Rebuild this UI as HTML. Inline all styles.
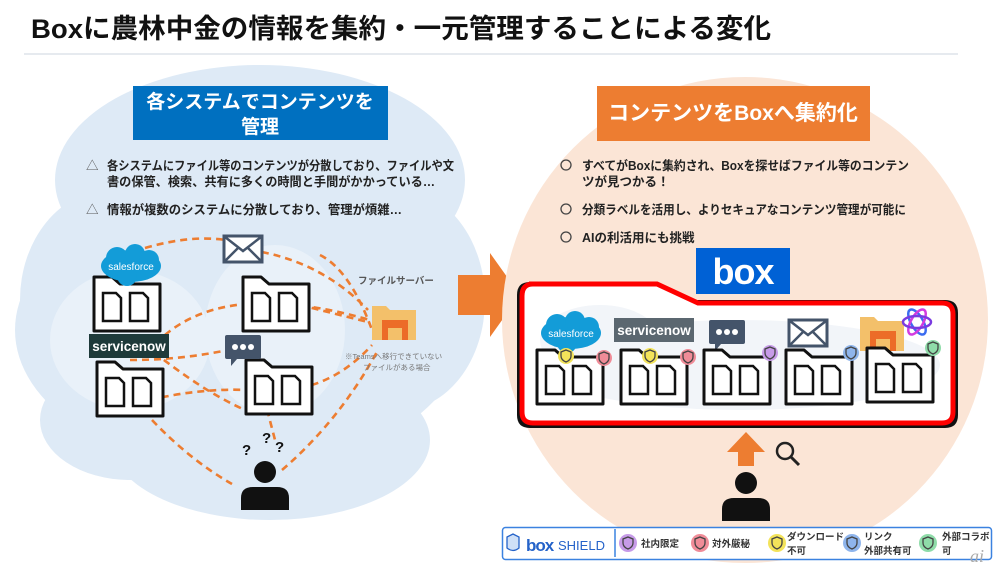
<!DOCTYPE html>
<html><head><meta charset="utf-8">
<style>
html,body{margin:0;padding:0;background:#fff;}
svg{display:block;font-family:"Liberation Sans","Noto Sans CJK JP",sans-serif;}
.b{font-weight:bold;}
</style></head><body>
<svg width="1000" height="569" viewBox="0 0 1000 569" xmlns="http://www.w3.org/2000/svg">
<defs>
<g id="fold">
 <path d="M0,0 H18 L26,7 H66 V54 H0 Z" fill="#fff" stroke="#111" stroke-width="3" stroke-linejoin="round"/>
 <path d="M9,16 H22 L27,21 V44 H9 Z" fill="#fff" stroke="#111" stroke-width="2.5"/>
 <path d="M36,16 H49 L54,21 V44 H36 Z" fill="#fff" stroke="#111" stroke-width="2.5"/>
</g>
<g id="sf">
 <ellipse cx="30" cy="20" rx="30" ry="16" fill="#139cd8"/>
 <circle cx="16" cy="12" r="11" fill="#139cd8"/><circle cx="34" cy="8" r="10" fill="#139cd8"/><circle cx="48" cy="14" r="10" fill="#139cd8"/><circle cx="26" cy="30" r="10" fill="#139cd8"/>
 <text x="30" y="24" font-size="10" fill="#fff" text-anchor="middle">salesforce</text>
</g>
<g id="env">
 <rect x="0" y="0" width="38" height="26" fill="#fff" stroke="#44546a" stroke-width="3"/>
 <path d="M1,1 L19,15 L37,1 M1,25 L14,12 M37,25 L24,12" fill="none" stroke="#44546a" stroke-width="2.5"/>
</g>
<g id="chat">
 <rect x="0" y="0" width="36" height="24" rx="2" fill="#44546a"/><path d="M6,24 L6,31 L12,24Z" fill="#44546a"/>
 <circle cx="10" cy="12" r="3" fill="#fff"/><circle cx="18" cy="12" r="3" fill="#fff"/><circle cx="26" cy="12" r="3" fill="#fff"/>
</g>
<g id="fs">
 <path d="M0,4 H14 L18,8 H44 V38 H0Z" fill="#f3c06a"/>
 <path d="M10,18 H36 V38 H30 V26 H16 V38 H10Z" fill="#ec6c28"/>
</g>
<g id="person">
 <circle cx="24" cy="12" r="11" fill="#111"/>
 <path d="M0,50 V38 Q0,27 12,27 H36 Q48,27 48,38 V50Z" fill="#111"/>
</g>
<g id="sh"><path d="M0,-5 L5,-3 V1 Q5,5 0,7 Q-5,5 -5,1 V-3Z" fill="none" stroke="#444" stroke-width="1.3"/></g>
</defs>

<text x="31" y="38" font-size="27" class="b" fill="#111" textLength="740" lengthAdjust="spacingAndGlyphs">Boxに農林中金の情報を集約・一元管理することによる変化</text>
<line x1="24" y1="54" x2="958" y2="54" stroke="#dde3ea" stroke-width="1.5"/>

<g fill="#deeaf6">
 <ellipse cx="260" cy="180" rx="205" ry="115"/>
 <ellipse cx="240" cy="330" rx="225" ry="140"/>
 <ellipse cx="110" cy="300" rx="90" ry="110"/>
 <ellipse cx="400" cy="300" rx="85" ry="110"/>
 <ellipse cx="270" cy="440" rx="160" ry="80"/>
 <ellipse cx="130" cy="420" rx="90" ry="60"/>
</g>
<g fill="#e9f1f9">
 <ellipse cx="130" cy="340" rx="80" ry="70"/>
 <ellipse cx="275" cy="330" rx="70" ry="85"/>
</g>
<rect x="133" y="86" width="255" height="54" fill="#0070c0"/>
<text x="260" y="108" font-size="19" class="b" fill="#fff" text-anchor="middle">各システムでコンテンツを</text>
<text x="260" y="133" font-size="19" class="b" fill="#fff" text-anchor="middle">管理</text>
<g font-size="12.5" class="b" fill="#222">
 <text x="86" y="170" font-weight="normal" fill="#555">△</text>
 <text x="107" y="170" textLength="347" lengthAdjust="spacingAndGlyphs">各システムにファイル等のコンテンツが分散しており、ファイルや文</text>
 <text x="107" y="186" textLength="328" lengthAdjust="spacingAndGlyphs">書の保管、検索、共有に多くの時間と手間がかかっている…</text>
 <text x="86" y="214" font-weight="normal" fill="#555">△</text>
 <text x="107" y="214" textLength="295" lengthAdjust="spacingAndGlyphs">情報が複数のシステムに分散しており、管理が煩雑…</text>
</g>

<g fill="none" stroke="#ed7d31" stroke-width="2.6" stroke-dasharray="7,5">
 <path d="M145,248 Q200,232 240,243"/>
 <path d="M250,250 Q320,260 368,310"/>
 <path d="M165,335 Q230,280 370,320"/>
 <path d="M300,305 L368,322"/>
 <path d="M320,255 Q350,270 372,330"/>
 <path d="M118,280 L118,330"/>
 <path d="M130,360 Q180,360 228,350"/>
 <path d="M145,345 Q200,390 245,410"/>
 <path d="M150,400 Q200,388 248,390"/>
 <path d="M255,363 L275,440"/>
 <path d="M300,388 Q340,380 372,345"/>
 <path d="M152,420 Q190,460 232,484"/>
 <path d="M282,470 Q340,420 378,350"/>
</g>

<use href="#fold" x="94" y="277"/>
<use href="#fold" x="97" y="362"/>
<use href="#fold" x="243" y="277"/>
<use href="#fold" x="246" y="360"/>
<use href="#sf" x="101" y="246"/>
<rect x="89" y="334" width="80" height="24" fill="#1e3a3a"/>
<text x="129" y="351" font-size="13.5" class="b" fill="#fff" text-anchor="middle">servicenow</text>
<use href="#env" x="224" y="236"/>
<use href="#chat" x="225" y="335"/>
<use href="#fs" x="372" y="302"/>
<text x="358" y="284" font-size="9.5" class="b" fill="#555">ファイルサーバー</text>
<text x="345" y="359" font-size="7.5" fill="#777">※Teamsへ移行できていない</text>
<text x="363" y="370" font-size="7.5" fill="#777">ファイルがある場合</text>
<g font-size="15" class="b" fill="#111"><text x="242" y="455">?</text><text x="262" y="443">?</text><text x="275" y="452">?</text></g>
<use href="#person" x="241" y="460"/>

<path d="M458,275 H490 V253 L520,295 L490,337 V315 H458Z" fill="#ed7d31"/>

<circle cx="745" cy="320" r="243" fill="#fbe5d6"/>
<rect x="597" y="86" width="273" height="55" fill="#ed7d31"/>
<text x="733" y="120" font-size="21" class="b" fill="#fff" text-anchor="middle">コンテンツをBoxへ集約化</text>
<g font-size="12.5" class="b" fill="#222">
 <circle cx="566" cy="165" r="5" fill="none" stroke="#444" stroke-width="1.3"/>
 <text x="582" y="170" textLength="327" lengthAdjust="spacingAndGlyphs">すべてがBoxに集約され、Boxを探せばファイル等のコンテン</text>
 <text x="582" y="186">ツが見つかる！</text>
 <circle cx="566" cy="209" r="5" fill="none" stroke="#444" stroke-width="1.3"/>
 <text x="582" y="214" textLength="324" lengthAdjust="spacingAndGlyphs">分類ラベルを活用し、よりセキュアなコンテンツ管理が可能に</text>
 <circle cx="566" cy="237" r="5" fill="none" stroke="#444" stroke-width="1.3"/>
 <text x="582" y="242">AIの利活用にも挑戦</text>
</g>
<rect x="696" y="248" width="94" height="46" fill="#0061d5"/>
<text x="743" y="284" font-size="36" class="b" fill="#fff" text-anchor="middle" letter-spacing="-1">box</text>

<path d="M525,282 H655 L695,300 H945 Q958,300 958,313 V415 Q958,428 945,428 H530 Q517,428 517,415 V295 Q517,282 530,282Z" fill="#111"/>
<path d="M529,284 H657 L698,303 H942 Q953,303 953,314 V412 Q953,423 942,423 H533 Q522,423 522,412 V296 Q522,284 533,284Z" fill="#fff" stroke="#f00" stroke-width="5"/>
<g fill="#f2f5f9"><ellipse cx="740" cy="365" rx="200" ry="45"/><ellipse cx="600" cy="340" rx="60" ry="35"/></g>

<use href="#sf" x="541" y="313"/>
<rect x="614" y="318" width="80" height="24" fill="#5b6770"/>
<text x="654" y="335" font-size="13.5" class="b" fill="#fff" text-anchor="middle">servicenow</text>
<use href="#chat" x="709" y="320"/>
<use href="#env" x="789" y="320"/>
<use href="#fs" x="860" y="313"/>
<g fill="none" stroke-width="2.5"><ellipse cx="917" cy="322" rx="14" ry="6" stroke="#3b6cf0" transform="rotate(60 917 322)"/><ellipse cx="917" cy="322" rx="14" ry="6" stroke="#d33be0" transform="rotate(-60 917 322)"/><ellipse cx="917" cy="322" rx="14" ry="6" stroke="#7a3be0"/></g>

<use href="#fold" x="537" y="350"/>
<use href="#fold" x="621" y="350"/>
<use href="#fold" x="704" y="350"/>
<use href="#fold" x="786" y="350"/>
<use href="#fold" x="867" y="348"/>
<circle cx="566" cy="356" r="8" fill="#f3e35a"/><use href="#sh" x="566" y="355"/>
<circle cx="604" cy="358" r="8" fill="#f08c98"/><use href="#sh" x="604" y="357"/>
<circle cx="650" cy="356" r="8" fill="#f3e35a"/><use href="#sh" x="650" y="355"/>
<circle cx="688" cy="357" r="8" fill="#f08c98"/><use href="#sh" x="688" y="356"/>
<circle cx="770" cy="353" r="8" fill="#c79be8"/><use href="#sh" x="770" y="352"/>
<circle cx="851" cy="353" r="8" fill="#8fb5ec"/><use href="#sh" x="851" y="352"/>
<circle cx="933" cy="348" r="8" fill="#8fdca9"/><use href="#sh" x="933" y="347"/>

<path d="M727,452 L746,432 L765,452 H754 V466 H738 V452Z" fill="#ed7d31"/>
<circle cx="785" cy="451" r="8" fill="none" stroke="#222" stroke-width="2.5"/>
<line x1="791" y1="457" x2="799" y2="465" stroke="#222" stroke-width="3"/>
<use href="#person" x="722" y="471"/>

<rect x="502.5" y="527.5" width="489" height="32" rx="3" fill="#fff" stroke="#3b82e0" stroke-width="1.5"/>
<line x1="615" y1="529" x2="615" y2="557" stroke="#3b82e0" stroke-width="1.5"/>
<path d="M507,537 L513,534 L519,537 V548 Q513,553 507,548Z" fill="#cfe0f7" stroke="#2563c9" stroke-width="1.3"/>
<text x="526" y="551" font-size="17" class="b" fill="#2563c9" letter-spacing="-1">box</text>
<text x="558" y="550" font-size="13" fill="#2563c9">SHIELD</text>
<circle cx="628" cy="543" r="9" fill="#c79be8"/><use href="#sh" x="628" y="542"/>
<text x="641" y="547" font-size="9.5" class="b" fill="#333">社内限定</text>
<circle cx="700" cy="543" r="9" fill="#f08c98"/><use href="#sh" x="700" y="542"/>
<text x="712" y="547" font-size="9.5" class="b" fill="#333">対外厳秘</text>
<circle cx="777" cy="543" r="9" fill="#f3e35a"/><use href="#sh" x="777" y="542"/>
<text x="787" y="540" font-size="9.5" class="b" fill="#333">ダウンロード</text>
<text x="787" y="554" font-size="9.5" class="b" fill="#333">不可</text>
<circle cx="852" cy="543" r="9" fill="#8fb5ec"/><use href="#sh" x="852" y="542"/>
<text x="864" y="540" font-size="9.5" class="b" fill="#333">リンク</text>
<text x="864" y="554" font-size="9.5" class="b" fill="#333">外部共有可</text>
<circle cx="928" cy="543" r="9" fill="#8fdca9"/><use href="#sh" x="928" y="542"/>
<text x="942" y="540" font-size="9.5" class="b" fill="#333">外部コラボ</text>
<text x="942" y="554" font-size="9.5" class="b" fill="#333">可</text>
<text x="970" y="562" font-size="18" font-style="italic" fill="#aaa" font-family="Liberation Serif,serif">ai</text>
</svg>
</body></html>
